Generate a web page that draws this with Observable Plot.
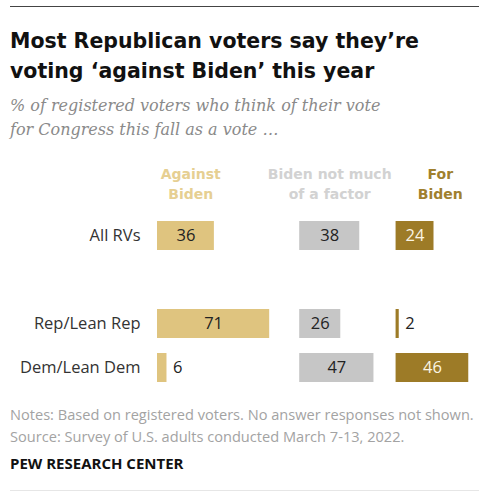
<!DOCTYPE html>
<html>
<head>
<meta charset="utf-8">
<script src="https://cdn.jsdelivr.net/npm/d3@7"></script>
<script src="https://cdn.jsdelivr.net/npm/@observablehq/plot@0.6"></script>
<style>
  html, body { margin: 0; padding: 0; background: #fff; width: 479px; height: 493px; overflow: hidden; }
  .abs { position: absolute; left: 10px; white-space: nowrap; }
  #rule { top: 6px; width: 469px; border-top: 1.5px solid #444; }
  #title { top: 26px; font-family: "DejaVu Sans", sans-serif; font-weight: 700; font-size: 20.5px; line-height: 30px; color: #111; }
  #subtitle { top: 94px; font-family: "DejaVu Serif", serif; font-style: italic; font-size: 16px; line-height: 24px; color: #8a8a8a; }
  #chart { position: absolute; left: 0; top: 150px; }
  #notes { top: 403px; font-family: "Open Sans", sans-serif; font-size: 14.6px; line-height: 22px; color: #a3a3a3; }
  #credit { top: 453px; font-family: "Open Sans", sans-serif; font-weight: 700; font-size: 15px; color: #111; }
  #bottom { top: 490px; width: 469px; border-top: 1px solid #e6e6e6; }
</style>
</head>
<body>
<div id="rule" class="abs"></div>
<div id="title" class="abs">Most Republican voters say they’re<br>voting ‘against Biden’ this year</div>
<div id="subtitle" class="abs">% of registered voters who think of their vote<br>for Congress this fall as a vote …</div>
<div id="chart"></div>
<div id="notes" class="abs">Notes: Based on registered voters. No answer responses not shown.<br>Source: Survey of U.S. adults conducted March 7-13, 2022.</div>
<div id="credit" class="abs">PEW RESEARCH CENTER</div>
<div id="bottom" class="abs"></div>
<script>
// ---- data ----
const groups = ["All RVs", "Rep/Lean Rep", "Dem/Lean Dem"];
const responses = ["Against\nBiden", "Biden not much\nof a factor", "For\nBiden"];
const againstBiden = [36, 71, 6];
const notMuchFactor = [38, 26, 47];
const forBiden = [24, 2, 46];

// ---- layout / style ----
const rowOrder = ["All RVs", " ", "Rep/Lean Rep", "Dem/Lean Dem"];
const columnStart = [0, 90, 151];
const headerCenter = [21, 109, 179];
const barColors = ["#dfc47f", "#c6c6c6", "#9d7b27"];
const headerColors = ["#e6cf92", "#d2d2d2", "#a0802e"];
const labelColors = ["#222", "#222", "#fbf5e4"];

const series = [againstBiden, notMuchFactor, forBiden];
const table = [];
series.forEach((vals, j) => {
  vals.forEach((v, i) => {
    table.push({group: groups[i], col: j, value: v, x1: columnStart[j], x2: columnStart[j] + v});
  });
});
const headers = responses.map((r, j) => ({text: r, x: headerCenter[j], col: j}));

const font = "'Open Sans', sans-serif";
const chart = Plot.plot({
  width: 479,
  height: 245,
  marginLeft: 157,
  marginRight: 6,
  marginTop: 62.25,
  marginBottom: 4.75,
  style: {fontFamily: font, fontSize: "16px", color: "#333", background: "transparent"},
  x: {domain: [0, 200], axis: null},
  y: {domain: rowOrder, paddingInner: 0.34, paddingOuter: 0.17, label: null},
  marks: [
    Plot.axisY({ticks: groups, tickSize: 0, tickPadding: 17, fontSize: 16.5, fill: "#333", label: null}),
    Plot.barX(table, {x1: "x1", x2: "x2", y: "group", fill: d => barColors[d.col]}),
    Plot.text(table.filter(d => d.value >= 10), {
      x: d => d.x1 + d.value / 2, y: "group", text: d => String(d.value),
      fill: d => labelColors[d.col], fontSize: 16.5, textAnchor: "middle"
    }),
    Plot.text(table.filter(d => d.value < 10), {
      x: "x2", y: "group", text: d => String(d.value),
      fill: "#222", fontSize: 16.5, textAnchor: "start", dx: 6
    }),
    Plot.text(headers, {
      x: "x", text: "text", frameAnchor: "top", lineAnchor: "top", dy: -48,
      fill: d => headerColors[d.col], fontFamily: "DejaVu Sans, sans-serif",
      fontSize: 14, fontWeight: 700, lineHeight: 1.43, textAnchor: "middle"
    })
  ]
});
document.getElementById("chart").appendChild(chart);
</script>
</body>
</html>
